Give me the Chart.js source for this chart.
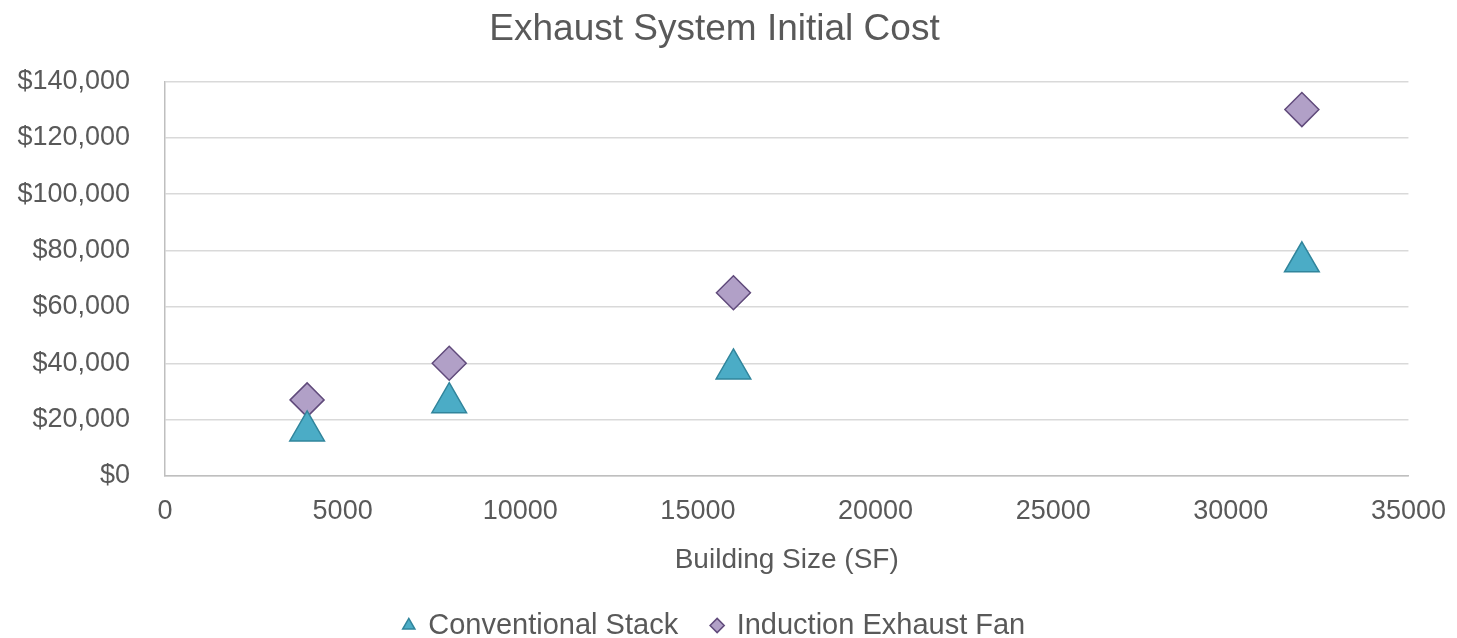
<!DOCTYPE html>
<html>
<head>
<meta charset="utf-8">
<script src="https://cdn.jsdelivr.net/npm/chart.js@4/dist/chart.umd.min.js"></script>
<style>
  html, body { margin: 0; padding: 0; background: #fff; }
  #wrap { width: 1457px; height: 638px; }
</style>
</head>
<body>
<div id="wrap"><canvas id="chartScatter"></canvas></div>
<script>
const buildingSize = [4000, 8000, 16000, 32000];
const conventionalStack = [16000, 26000, 38000, 76000];
const inductionFan = [27000, 40000, 65000, 130000];
const seriesNames = ['Conventional Stack', 'Induction Exhaust Fan'];

const grey = '#595959';
Chart.defaults.font.family = '"Liberation Sans", Arial, sans-serif';
Chart.defaults.color = grey;

const dataScatter = {
  datasets: [
    {
      label: seriesNames[0],
      data: buildingSize.map((x, i) => ({ x: x, y: conventionalStack[i] })),
      pointStyle: 'triangle',
      pointRadius: 20,
      pointHoverRadius: 20,
      backgroundColor: '#4bacc6',
      borderColor: '#31859c',
      borderWidth: 1.5,
    },
    {
      label: seriesNames[1],
      data: buildingSize.map((x, i) => ({ x: x, y: inductionFan[i] })),
      pointStyle: 'rectRot',
      pointRadius: 17,
      pointHoverRadius: 17,
      backgroundColor: '#b1a0c7',
      borderColor: '#604a7b',
      borderWidth: 1.5,
    },
  ],
};

const configScatter = {
  type: 'scatter',
  data: dataScatter,
  options: {
    responsive: true,
    maintainAspectRatio: false,
    animation: false,
    layout: { padding: { left: 12, right: 40, top: 4, bottom: -12 } },
    plugins: {
      title: {
        display: true,
        text: 'Exhaust System Initial Cost',
        font: { size: 37, weight: 'normal' },
        color: grey,
        padding: { top: 4, bottom: 29 },
      },
      legend: {
        position: 'bottom',
        labels: {
          usePointStyle: true,
          boxWidth: 10,
          boxHeight: 10,
          padding: 34,
          font: { size: 29 },
          color: grey,
        },
      },
      tooltip: { enabled: false },
    },
    scales: {
      x: {
        type: 'linear',
        min: 0,
        max: 35000,
        ticks: {
          stepSize: 5000,
          font: { size: 27 },
          color: grey,
          padding: 11,
          callback: (v) => String(v),
        },
        grid: { display: false },
        border: { color: '#bfbfbf', width: 1.5 },
        title: {
          display: true,
          text: 'Building Size (SF)',
          font: { size: 28 },
          color: grey,
          padding: { top: 5, bottom: 0 },
        },
      },
      y: {
        min: 0,
        max: 140000,
        afterFit: (axis) => { axis.width = 153; },
        ticks: {
          stepSize: 20000,
          font: { size: 27 },
          color: grey,
          padding: 35,
          callback: (v) => '$' + v.toLocaleString('en-US'),
        },
        grid: { color: '#d9d9d9', lineWidth: 1.5, drawTicks: false },
        border: { color: '#bfbfbf', width: 1.5 },
      },
    },
  },
};
const chartScatter = new Chart(document.getElementById('chartScatter'), configScatter);
</script>
</body>
</html>
